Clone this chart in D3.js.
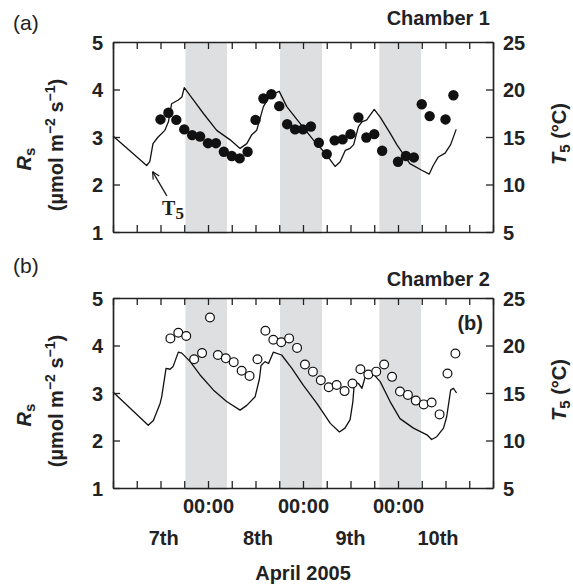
<!DOCTYPE html>
<html>
<head>
<meta charset="utf-8">
<script src="https://cdn.jsdelivr.net/npm/d3@7"></script>
<style>
  html, body { margin: 0; padding: 0; background: #fff; }
  svg { display: block; }
  text { font-family: "Liberation Sans", Arial, Helvetica, sans-serif; fill: #222; }
</style>
</head>
<body>
<svg id="chart" width="573" height="585"></svg>
<script>
// ---------------- DATA ----------------
// time axis: hours since 00:00 of the first day shown
const xTickHours = [0,6,12,18,24,30,36,42,48,54,60,66,72,78,84,90,96];
const midnightHours = [24,48,72];
const midnightLabel = "00:00";
const dayLabels = ["7th","8th","9th","10th"];
const dayLabelHours = [12.8,36.6,60.0,82.1];
const xTitle = "April 2005";
const nightBands = [[18.3,28.8],[42.2,52.8],[67.3,77.8]];
const rsTicks = [1,2,3,4,5];
const tTicks = [5,10,15,20,25];

// Chamber 1 (filled circles)
const hoursA = [12,14,16,18,20,22,24,26,28,30,32,34,36,38,40,42,44,46,48,50,52,54,56,58,60,62,64,66,68,72,74,76,78,80,84,86];
const rsA = [3.37,3.51,3.36,3.16,3.04,3.01,2.87,2.87,2.69,2.60,2.55,2.69,3.36,3.81,3.90,3.65,3.27,3.16,3.16,3.22,2.88,2.64,2.93,2.95,3.06,3.41,2.99,3.06,2.71,2.48,2.60,2.57,3.69,3.44,3.37,3.88];
// Chamber 1 soil temperature T5
const tHoursA = [0,8.5,9.3,10.1,11.4,13.1,14.0,14.8,16.5,17.4,18.0,20.3,22.8,26.2,29.6,32.1,33.8,35.0,36.3,38.0,39.7,42.0,43.9,47.3,50.6,54.0,56.1,57.4,58.7,59.9,60.8,62.0,62.9,64.1,66.0,67.5,70.0,71.7,75.0,78.0,79.9,80.9,82.2,83.9,85.3,86.7];
const t5A = [15.1,12.0,12.4,14.3,15.0,15.7,16.6,18.5,18.9,19.2,20.2,18.9,17.5,15.7,14.7,13.8,14.3,15.2,15.7,18.2,19.4,19.8,18.2,16.4,14.7,13.1,11.9,12.4,13.6,13.8,14.2,16.1,16.6,16.8,17.9,17.1,15.4,14.2,12.2,11.5,11.1,12.0,12.9,13.3,14.2,15.8];

// Chamber 2 (open circles)
const hoursB = [14.5,16.5,18.5,20.5,22.5,24.5,26.5,28.5,30.5,32.5,34.5,36.5,38.5,40.5,42.5,44.5,46.5,48.5,50.5,52.5,54.5,56.5,58.5,60.5,62.5,64.5,66.5,68.5,70.5,72.5,74.5,76.5,78.5,80.5,82.5,84.5,86.5];
const rsB = [4.15,4.27,4.20,3.71,3.84,4.59,3.80,3.73,3.65,3.47,3.36,3.71,4.31,4.12,4.07,4.15,3.95,3.60,3.45,3.27,3.12,3.17,3.04,3.20,3.50,3.39,3.45,3.60,3.34,3.03,2.96,2.84,2.76,2.80,2.55,3.41,3.83];
// Chamber 2 soil temperature T5
const tHoursB = [0,8.9,10.2,11.9,12.3,13.4,14.4,15.2,16.5,17.4,19.5,22.0,25.4,28.7,32.1,33.8,35.9,37.0,37.4,38.4,39.3,40.5,42.6,45.2,48.1,51.5,54.9,57.2,58.6,59.9,60.6,61.0,62.0,62.9,63.7,65.1,67.5,70.0,72.5,75.9,79.3,80.5,81.8,83.5,84.3,85.3,86.0,86.8];
const t5B = [15.1,11.6,12.1,13.9,14.6,17.6,17.5,17.8,19.3,19.2,18.3,16.9,15.3,14.1,13.2,13.7,14.6,16.5,17.9,18.3,18.1,19.3,19.0,17.6,15.8,13.9,11.8,10.9,11.3,12.2,14.1,16.2,16.0,15.5,16.7,17.3,16.2,14.1,12.3,11.3,10.6,10.1,10.4,11.3,12.5,15.3,15.5,15.0];

// annotation of panel (a): arrow to the T5 line
const arrowFrom = [13.6, 1.76];
const arrowTo = [10.0, 2.27];
const arrowText = [12.4, 1.36];

// ---------------- LAYOUT ----------------
const svg = d3.select("#chart");
const ink = "#222";
const x = d3.scaleLinear().domain([0,96]).range([113,493]);

const panels = [
  {top:42, bottom:232, hours:hoursA, rs:rsA, th:tHoursA, t5:t5A, filled:true,
   letter:"(a)", letterY:30, chamber:"Chamber 1", chamberY:25, showX:false},
  {top:298, bottom:488, hours:hoursB, rs:rsB, th:tHoursB, t5:t5B, filled:false,
   letter:"(b)", letterY:273, chamber:"Chamber 2", chamberY:286, showX:true}
];

panels.forEach((p, i) => {
  const yL = d3.scaleLinear().domain([1,5]).range([p.bottom, p.top]);
  const yR = d3.scaleLinear().domain([5,25]).range([p.bottom, p.top]);
  const g = svg.append("g");

  // night bands
  g.selectAll("rect.band").data(nightBands).enter().append("rect")
    .attr("class","band")
    .attr("x", d => x(d[0]))
    .attr("width", d => x(d[1]) - x(d[0]))
    .attr("y", p.top)
    .attr("height", p.bottom - p.top + 2)
    .attr("fill", "#dedfe1");

  // T5 line
  const pts = p.th.map((h, k) => [h, p.t5[k]]);
  g.append("path").datum(pts)
    .attr("fill","none").attr("stroke","#111").attr("stroke-width",1.3)
    .attr("stroke-linejoin","round")
    .attr("d", d3.line().x(d => x(d[0])).y(d => yR(d[1])));

  // Rs points
  const rp = p.hours.map((h, k) => [h, p.rs[k]]);
  g.selectAll("circle.pt").data(rp).enter().append("circle")
    .attr("class","pt")
    .attr("cx", d => x(d[0])).attr("cy", d => yL(d[1]))
    .attr("r", p.filled ? 5.2 : 4.4)
    .attr("fill", p.filled ? "#111" : "#fff")
    .attr("stroke", "#111")
    .attr("stroke-width", p.filled ? 0 : 1.2);

  // axes
  const styleAxis = sel => {
    sel.select(".domain").attr("stroke", ink).attr("stroke-width", 1.7);
    sel.selectAll(".tick line").attr("stroke", ink).attr("stroke-width", 1.3);
    sel.selectAll(".tick text").attr("fill", ink)
      .style("font-size","20px").style("font-weight","bold");
  };
  g.append("g").attr("transform",`translate(0,${p.bottom})`)
    .call(d3.axisBottom(x).tickValues(xTickHours).tickSizeInner(-7).tickSizeOuter(0)
      .tickPadding(11)
      .tickFormat(d => (p.showX && midnightHours.includes(d)) ? midnightLabel : ""))
    .call(styleAxis);
  g.append("g").attr("transform",`translate(0,${p.top})`)
    .call(d3.axisTop(x).tickValues(xTickHours).tickSizeInner(-7).tickSizeOuter(0).tickFormat(""))
    .call(styleAxis);
  g.append("g").attr("transform",`translate(${x(0)},0)`)
    .call(d3.axisLeft(yL).tickValues(rsTicks).tickSizeInner(-7).tickSizeOuter(0).tickPadding(10)
      .tickFormat(d3.format("d")))
    .call(styleAxis);
  g.append("g").attr("transform",`translate(${x(96)},0)`)
    .call(d3.axisRight(yR).tickValues(tTicks).tickSizeInner(-7).tickSizeOuter(0).tickPadding(10)
      .tickFormat(d3.format("d")))
    .call(styleAxis);
  g.selectAll(".tick text").attr("dy", "0.36em");
  if (p.showX) g.selectAll(".tick text").filter(function(){ return this.textContent === midnightLabel; }).attr("dy","0.71em");

  // panel letter
  svg.append("text").attr("x", 13).attr("y", p.letterY)
    .style("font-size","21px").text(p.letter);
  // chamber label
  svg.append("text").attr("x", 490).attr("y", p.chamberY).attr("text-anchor","end")
    .style("font-size","20px").style("font-weight","bold").text(p.chamber);

  const mid = (p.top + p.bottom) / 2;
  // left title line 1: Rs
  const t1 = svg.append("text")
    .attr("transform", `translate(31,${mid + 22}) rotate(-90)`)
    .attr("text-anchor","middle").style("font-size","20px").style("font-weight","bold");
  t1.append("tspan").style("font-style","italic").text("R");
  t1.append("tspan").attr("dy", 4).style("font-size","15px").text("s");
  // left title line 2
  const t2 = svg.append("text")
    .attr("transform", `translate(63,${mid + 8}) rotate(-90)`)
    .attr("text-anchor","middle").style("font-size","20px").style("font-weight","bold");
  t2.append("tspan").text("(µmol m");
  t2.append("tspan").attr("dy", -8).style("font-size","14px").text("−2");
  t2.append("tspan").attr("dy", 8).text(" s");
  t2.append("tspan").attr("dy", -8).style("font-size","14px").text("−1");
  t2.append("tspan").attr("dy", 8).text(")");
  // right title
  const t3 = svg.append("text")
    .attr("transform", `translate(566,${mid - 3}) rotate(-90)`)
    .attr("text-anchor","middle").style("font-size","20px").style("font-weight","bold");
  t3.append("tspan").style("font-style","italic").text("T");
  t3.append("tspan").attr("dy", 4).style("font-size","15px").text("5");
  t3.append("tspan").attr("dy", -4).text(" (°C)");

  if (i === 0) {
    // arrow annotation
    const ax1 = x(arrowFrom[0]), ay1 = yL(arrowFrom[1]);
    const ax2 = x(arrowTo[0]), ay2 = yL(arrowTo[1]);
    svg.append("line").attr("x1",ax1).attr("y1",ay1).attr("x2",ax2).attr("y2",ay2)
      .attr("stroke","#111").attr("stroke-width",1.2);
    const ang = Math.atan2(ay1 - ay2, ax1 - ax2);
    [-0.45, 0.45].forEach(da => {
      svg.append("line").attr("x1",ax2).attr("y1",ay2)
        .attr("x2", ax2 + 8*Math.cos(ang+da)).attr("y2", ay2 + 8*Math.sin(ang+da))
        .attr("stroke","#111").attr("stroke-width",1.2);
    });
    const at = svg.append("text").attr("x", x(arrowText[0])).attr("y", yL(arrowText[1]))
      .style("font-family","'Liberation Serif','Times New Roman',serif")
      .style("font-size","20px").style("font-weight","bold");
    at.append("tspan").text("T");
    at.append("tspan").attr("dy", 4).style("font-size","17px").text("5");
  } else {
    svg.append("text").attr("x", 483).attr("y", 330).attr("text-anchor","end")
      .style("font-size","20px").style("font-weight","bold").text("(b)");
    // day labels and x title
    svg.selectAll("text.day").data(dayLabels).enter().append("text")
      .attr("class","day")
      .attr("x", (d,k) => x(dayLabelHours[k])).attr("y", 545)
      .attr("text-anchor","middle").style("font-size","20px").style("font-weight","bold")
      .text(d => d);
    svg.append("text").attr("x", (x(0)+x(96))/2).attr("y", 580)
      .attr("text-anchor","middle").style("font-size","20px").style("font-weight","bold")
      .text(xTitle);
  }
});
</script>
</body>
</html>
